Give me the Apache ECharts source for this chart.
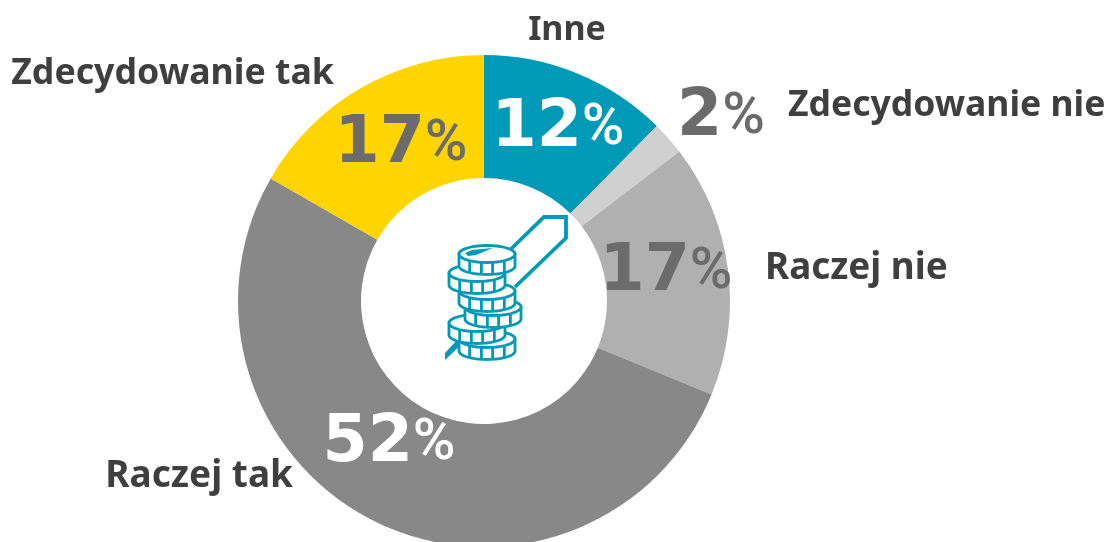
<!DOCTYPE html>
<html>
<head>
<meta charset="utf-8">
<style>
  html, body { margin: 0; padding: 0; background: #fff; }
  #chart { width: 1118px; height: 542px; }
</style>
<script src="https://cdn.jsdelivr.net/npm/echarts@6/dist/echarts.min.js"></script>
</head>
<body>
<div id="chart"></div>
<script>
// dane wykresu
const categories = ['Inne', 'Zdecydowanie nie', 'Raczej nie', 'Raczej tak', 'Zdecydowanie tak'];
const shares = [12.4, 2.2, 16.6, 52.1, 16.7];
const percentLabels = ['12', '2', '17', '52', '17'];

const sliceColors = ['#009ab9', '#d0d0d0', '#b0b0b0', '#888888', '#ffd500'];
const labelColors = ['#ffffff', '#6b6b6b', '#6b6b6b', '#ffffff', '#6b6b6b'];
const pctPos = [[558, 129], [721, 118], [666, 273], [389, 444], [401, 145]];
const namePos = [[567, 30, 'center'], [788, 106, 'left'], [765, 269, 'left'], [293, 476, 'right'], [334, 74, 'right']];
const nameSizes = [34, 35.5, 36.8, 37, 35.7];
const iconColor = '#009ab9';

// punkty luku elipsy (ikona monet)
function arcPoints(cx, cy, rx, ry, from, to) {
  const pts = [];
  for (let i = 0; i <= 36; i++) {
    const a = from + (to - from) * i / 36;
    pts.push([cx + rx * Math.cos(a), cy + ry * Math.sin(a)]);
  }
  return pts;
}

// moneta: bok z podzialka + gorna elipsa
function coin(cx, cy, rx, ry, h) {
  const line = { fill: '#fff', stroke: iconColor, lineWidth: 2.8 };
  const side = [[cx + rx, cy]].concat(arcPoints(cx, cy + h, rx, ry, 0, Math.PI), [[cx - rx, cy]]);
  const items = [
    { type: 'polygon', shape: { points: side }, style: line },
    { type: 'polygon', shape: { points: arcPoints(cx, cy, rx, ry, 0, Math.PI * 2) }, style: line }
  ];
  [-0.62, -0.2, 0.2, 0.62].forEach(function (t) {
    const x = cx + t * rx;
    const y = cy + ry * Math.sqrt(1 - t * t);
    items.push({ type: 'line', shape: { x1: x, y1: y, x2: x, y2: y + h }, style: { stroke: iconColor, lineWidth: 2.8 } });
  });
  return items;
}

function buildIcon() {
  let items = [
    // pioro
    { type: 'polyline', shape: { points: [[511, 249], [544, 217], [566, 217], [566, 238], [515, 287]] },
      style: { fill: 'none', stroke: iconColor, lineWidth: 3.8 } },
    { type: 'polygon', shape: { points: [[457, 340], [445, 353], [445, 360], [463, 343]] },
      style: { fill: iconColor } }
  ];
  // od dolu do gory
  [[487, 339], [477, 323], [493, 307], [487, 291], [477, 273], [487, 254]].forEach(function (c) {
    items = items.concat(coin(c[0], c[1], 28, 8.5, 12));
  });
  // blik na gornej monecie
  items.push({ type: 'polygon', shape: { points: [[465, 253], [472, 250], [493, 248], [476, 255], [468, 256]] },
    style: { fill: iconColor } });
  return items;
}

const nameTexts = categories.map(function (name, i) {
  return {
    type: 'text',
    x: namePos[i][0],
    y: namePos[i][1],
    style: {
      text: name,
      font: 'bold ' + nameSizes[i] + 'px "Noto Sans"',
      fill: '#3f3f3f',
      align: namePos[i][2],
      verticalAlign: 'middle'
    }
  };
});

const chart = echarts.init(document.getElementById('chart'));
chart.setOption({
  animation: false,
  backgroundColor: '#ffffff',
  series: [{
    type: 'pie',
    center: [484, 301],
    radius: [123, 246],
    startAngle: 90,
    clockwise: true,
    silent: true,
    data: categories.map(function (name, i) {
      return {
        name: name,
        value: shares[i],
        itemStyle: { color: sliceColors[i] },
        label: {
          formatter: '{n|' + percentLabels[i] + '}{p|%}',
          rich: {
            n: { fontFamily: 'DejaVu Sans', fontWeight: 'bold', fontSize: 65, color: labelColors[i] },
            p: { fontFamily: 'Roboto', fontWeight: 500, fontSize: 58, color: labelColors[i] }
          }
        }
      };
    }),
    label: { show: true, position: 'inside' },
    labelLine: { show: false },
    labelLayout: function (params) {
      return { x: pctPos[params.dataIndex][0], y: pctPos[params.dataIndex][1], align: 'center', verticalAlign: 'middle' };
    }
  }],
  graphic: { elements: nameTexts.concat(buildIcon()) }
});
</script>
</body>
</html>
